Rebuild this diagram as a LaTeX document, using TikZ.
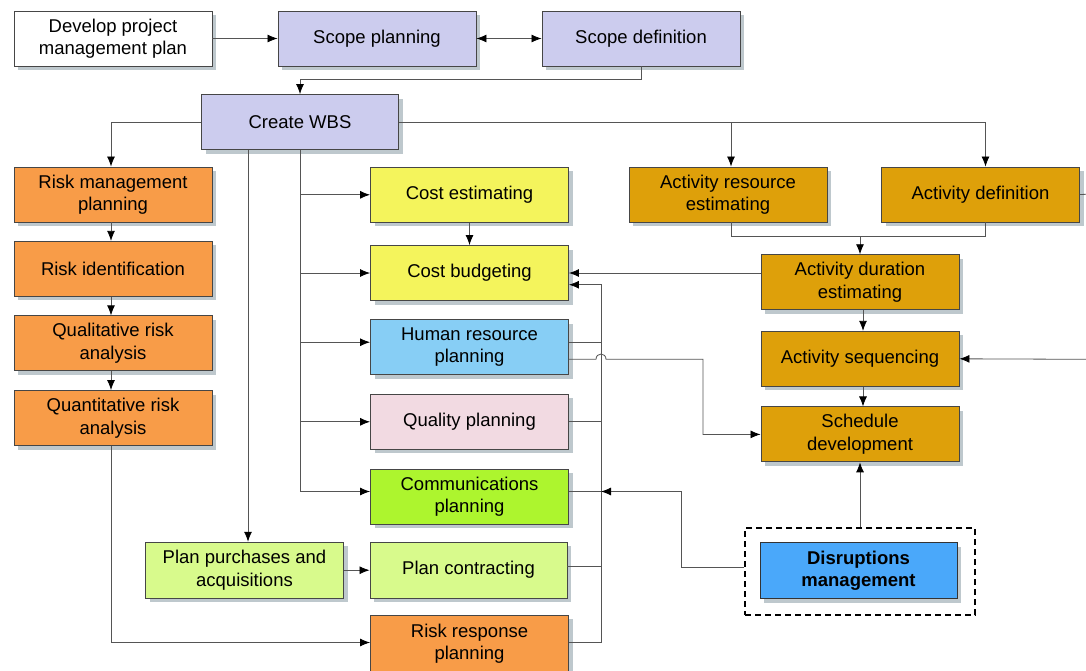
\documentclass[tikz,border=0pt]{standalone}
\usepackage{fontspec}
\setmainfont{Liberation Sans}
\usetikzlibrary{arrows.meta,shadows}
\definecolor{lav}{RGB}{204,204,238}
\definecolor{orng}{RGB}{248,156,72}
\definecolor{yel}{RGB}{244,244,92}
\definecolor{lblue}{RGB}{135,206,245}
\definecolor{pnk}{RGB}{242,218,226}
\definecolor{grn}{RGB}{173,245,46}
\definecolor{lgrn}{RGB}{216,250,140}
\definecolor{gold}{RGB}{222,160,10}
\definecolor{dblue}{RGB}{74,168,250}
\definecolor{shadowc}{RGB}{190,200,205}
\definecolor{edgec}{RGB}{70,70,70}
\definecolor{linec}{RGB}{85,85,85}
\tikzset{
  box/.style={draw=edgec, line width=0.9pt, minimum width=198pt, minimum height=55pt,
    inner sep=0pt, align=center, font=\fontsize{18.5}{22.5}\selectfont,
    drop shadow={shadow xshift=4pt, shadow yshift=-4pt, fill=shadowc, opacity=1}},
  conn/.style={draw=linec, line width=0.8pt},
  arr/.style={conn, -{Latex[length=10pt,width=8pt,black]}},
  darr/.style={conn, {Latex[length=10pt,width=8pt,black]}-{Latex[length=10pt,width=8pt,black]}},
}
\begin{document}
\begin{tikzpicture}[x=1pt,y=-1pt]
\useasboundingbox (0,0) rectangle (1086,670);
\fill[white] (0,0) rectangle (1086,670);
% nodes
\node[box, fill=white] (dev) at (113,38.5) {Develop project\\management plan};
\node[box, fill=lav] (sp) at (377,38.5) {Scope planning};
\node[box, fill=lav] (sd) at (641,38.5) {Scope definition};
\node[box, fill=lav, minimum width=197pt] (wbs) at (300,122) {Create WBS};
\node[box, fill=orng] (rmp) at (113,194.5) {Risk management\\planning};
\node[box, fill=orng] (rid) at (113,268.8) {Risk identification};
\node[box, fill=orng] (qra) at (113,343.3) {Qualitative risk\\analysis};
\node[box, fill=orng] (qnra) at (113,418) {Quantitative risk\\analysis};
\node[box, fill=yel] (ce) at (469.5,194.8) {Cost estimating};
\node[box, fill=yel] (cb) at (469.5,273) {Cost budgeting};
\node[box, fill=lblue] (hr) at (469.5,347.2) {Human resource\\planning};
\node[box, fill=pnk] (qp) at (469.5,421.8) {Quality planning};
\node[box, fill=grn] (cp) at (469.5,496.5) {Communications\\planning};
\node[box, fill=lgrn, minimum height=56pt] (ppa) at (244.5,570.2) {Plan purchases and\\acquisitions};
\node[box, fill=lgrn, minimum width=197pt, minimum height=56pt] (pc) at (468.5,570.2) {Plan contracting};
\node[box, fill=orng, minimum height=57pt] (rrp) at (469.5,643.5) {Risk response\\planning};
\node[box, fill=gold] (are) at (728,194.5) {Activity resource\\estimating};
\node[box, fill=gold] (ad) at (980.5,194.5) {Activity definition};
\node[box, fill=gold] (ade) at (860,282.2) {Activity duration\\estimating};
\node[box, fill=gold] (as) at (860,358.8) {Activity sequencing};
\node[box, fill=gold] (sdv) at (860,434.4) {Schedule\\development};
\node[draw=black, line width=1.6pt, dash pattern=on 6pt off 4pt, minimum width=230pt, minimum height=87pt, inner sep=0pt] (frame) at (860,571.5) {};
\node[box, fill=dblue, minimum width=197pt, minimum height=56pt, font=\fontsize{18.5}{22.5}\selectfont\bfseries, line width=1pt, draw=black!80] (dm) at (858.5,570.5) {Disruptions\\management};
% coordinates for bends and edge stubs
\coordinate (bustop) at (601,284.7);
\coordinate (hopa) at (596,359.3);
\coordinate (hopb) at (606,359.3);
\coordinate (hrturn) at (703,359.3);
\coordinate (dmturn) at (681,567);
\coordinate (adstub) at (1086,194.3);
\coordinate (asin) at (1086,359.3);
% top row
\draw[arr] (dev.east) -- (sp.west);
\draw[darr] (sp.east) -- (sd.west);
\draw[arr] (sd.south) -- ++(0,13.3) -| (wbs.north);
% WBS outputs
\draw[arr] (wbs.west) -| ([xshift=-2pt]rmp.north);
\draw[arr] (wbs.east) -| ([xshift=5pt]ad.north);
\draw[arr] ([xshift=3pt]are.north |- wbs.east) -- ([xshift=3pt]are.north);
\draw[arr] ([xshift=-52pt]wbs.south) -- ([xshift=-52pt]wbs.south |- ppa.north);
\draw[arr] (wbs.south) |- ([yshift=5pt]cp.west);
\draw[arr] (wbs.south |- ce.west) -- (ce.west);
\draw[arr] (wbs.south |- cb.west) -- (cb.west);
\draw[arr] ([yshift=5pt]hr.west -| wbs.south) -- ([yshift=5pt]hr.west);
\draw[arr] (wbs.south |- qp.west) -- (qp.west);
% risk chain
\draw[arr] ([xshift=-2pt]rmp.south) -- ([xshift=-2pt]rid.north);
\draw[arr] ([xshift=-2pt]rid.south) -- ([xshift=-2pt]qra.north);
\draw[arr] ([xshift=-2pt]qra.south) -- ([xshift=-2pt]qnra.north);
\draw[arr] ([xshift=-2pt]qnra.south) |- ([yshift=1pt]rrp.west);
% cost / procurement
\draw[arr] (ce.south) -- (cb.north);
\draw[arr] (ppa.east) -- (pc.west);
% bus on the right of middle column
\draw[arr] ([yshift=1pt]rrp.east) -| (bustop) -- (bustop -| cb.east);
\draw[conn] ([yshift=5pt]hr.east) -- ([yshift=5pt]hr.east -| bustop);
\draw[conn] (qp.east) -- (qp.east -| bustop);
\draw[conn] ([yshift=5pt]cp.east) -- ([yshift=5pt]cp.east -| bustop);
\draw[conn] ([yshift=3.5pt]pc.east) -- ([yshift=3.5pt]pc.east -| bustop);
% HR to schedule development (with hop)
\draw[arr] (hr.east |- hopa) -- (hopa) .. controls +(0,-7) and +(0,-7) .. (hopb) -- (hrturn) |- (sdv.west);
% activity branch
\draw[conn] ([xshift=3pt]are.south) -- ++(0,14.3) -| ([xshift=4.5pt]ad.south);
\draw[arr] ([yshift=-14.3pt]are.south -| ade.north) -- (ade.north);
\draw[arr] (ade.west |- cb.east) -- (cb.east);
\draw[arr] ([xshift=3pt]ade.south) -- ([xshift=3pt]as.north);
\draw[arr] ([xshift=3pt]as.south) -- ([xshift=3pt]sdv.north);
\draw[arr] (asin) -- (as.east);
\draw[conn] (ad.east) -- (adstub);
% disruptions
\draw[arr] (frame.north) -- (sdv.south);
\draw[arr] (frame.west |- dmturn) -- (dmturn) |- ([yshift=5pt]cp.east -| bustop);
\end{tikzpicture}
\end{document}
